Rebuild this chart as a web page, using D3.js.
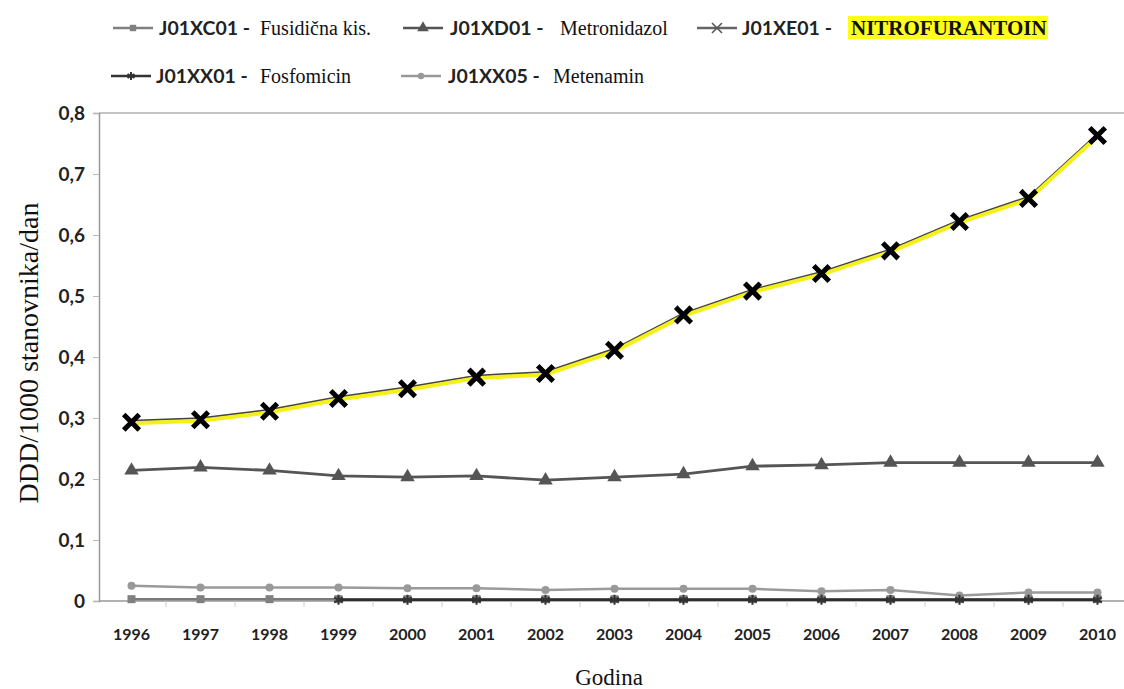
<!DOCTYPE html>
<html><head><meta charset="utf-8">
<script src="https://cdn.jsdelivr.net/npm/d3@7"></script>
<style>body{margin:0;background:#fff}svg{display:block}</style>
</head><body>
<svg id="c" width="1124" height="689"></svg>
<script>
const years = ["1996","1997","1998","1999","2000","2001","2002","2003","2004","2005","2006","2007","2008","2009","2010"];
const yTicks = [0,0.1,0.2,0.3,0.4,0.5,0.6,0.7,0.8];
const fusidic = [0.003,0.003,0.003,0.003,0.003,0.003,0.003,0.003,0.003,0.003,0.003,0.003,0.003,0.003,0.003];
const metronidazol = [0.214,0.219,0.214,0.205,0.203,0.205,0.198,0.203,0.208,0.221,0.223,0.227,0.227,0.227,0.227];
const nitrofurantoin = [0.293,0.297,0.311,0.332,0.348,0.367,0.373,0.411,0.469,0.508,0.537,0.574,0.622,0.660,0.763];
const fosfomicin = [null,null,null,0.002,0.002,0.002,0.002,0.002,0.002,0.002,0.002,0.002,0.002,0.002,0.002];
const metenamin = [0.025,0.022,0.022,0.022,0.021,0.021,0.018,0.020,0.020,0.020,0.016,0.018,0.009,0.014,0.014];
const codes = ["J01XC01 -","J01XD01 -","J01XE01 -","J01XX01 -","J01XX05 -"];
const names = ["Fusidična kis.","Metronidazol","NITROFURANTOIN","Fosfomicin","Metenamin"];

const svg = d3.select("#c");
const x = d3.scaleBand().domain(years).range([97, 1132]);
const y = d3.scaleLinear().domain([0, 0.8]).range([601, 113]);
const cx = d => x(d) + x.bandwidth()/2;

svg.append("line").attr("x1",99).attr("x2",1124).attr("y1",y(0.8)).attr("y2",y(0.8)).attr("stroke","#b0b0b0").attr("stroke-width",1.5);

const ya = svg.append("g").attr("transform","translate(99,0)")
  .call(d3.axisLeft(y).tickValues(yTicks).tickSize(6).tickPadding(8).tickFormat(d => d===0 ? "0" : d3.format(".1f")(d).replace(".",",")));
ya.select(".domain").attr("stroke","#999").attr("stroke-width",1.5);
ya.selectAll(".tick line").attr("stroke","#bbb");
ya.selectAll("text").attr("font-family","Lato, 'Open Sans', sans-serif").attr("font-weight","bold").attr("font-size",19).attr("fill","#222");

const xa = svg.append("g").attr("transform","translate(0,601)").call(d3.axisBottom(x).tickSize(0).tickPadding(28));
xa.select(".domain").remove();
xa.selectAll("text").attr("font-family","Lato, 'Open Sans', sans-serif").attr("font-weight","bold").attr("font-size",16).attr("fill","#222");
svg.append("line").attr("x1",99).attr("x2",1124).attr("y1",601).attr("y2",601).attr("stroke","#999").attr("stroke-width",1.5);
svg.append("g").selectAll("line").data(years.slice(1)).join("line")
  .attr("x1",d=>x(d)).attr("x2",d=>x(d)).attr("y1",601).attr("y2",607).attr("stroke","#ccc");

svg.append("text").attr("transform","translate(38,353) rotate(-90)").attr("text-anchor","middle")
  .attr("font-family","'Liberation Serif', serif").attr("font-size",28).attr("fill","#111").text("DDD/1000 stanovnika/dan");
svg.append("text").attr("x",609).attr("y",685).attr("text-anchor","middle")
  .attr("font-family","'Liberation Serif', serif").attr("font-size",23).attr("fill","#111").text("Godina");

const xPath = s => `M${-s},${-s}L${s},${s}M${-s},${s}L${s},${-s}`;
const starPath = s => `M0,${-s}L0,${s}M${-s*0.87},${-s*0.5}L${s*0.87},${s*0.5}M${-s*0.87},${s*0.5}L${s*0.87},${-s*0.5}`;
function drawMarker(g, type, px, py, small) {
  const k = small ? 0.8 : 1;
  if (type==="square") g.append("rect").attr("x",px-4*k).attr("y",py-4*k).attr("width",8*k).attr("height",8*k).attr("fill","#808080");
  else if (type==="tri") g.append("path").attr("d", d3.symbol(d3.symbolTriangle, 90*k*k)()).attr("transform",`translate(${px},${py})`).attr("fill","#555");
  else if (type==="x") g.append("path").attr("d", xPath(small?4.5:6)).attr("transform",`translate(${px},${py})`).attr("stroke", small?"#555":"#000").attr("stroke-width", small?1.5:5).attr("stroke-linecap","square");
  else if (type==="star") g.append("path").attr("d", starPath(5*k)).attr("transform",`translate(${px},${py})`).attr("stroke","#333").attr("stroke-width",2);
  else if (type==="circle") g.append("circle").attr("cx",px).attr("cy",py).attr("r",4*k).attr("fill","#999");
}

const line = d3.line().defined(d => d.v !== null).x(d => cx(d.yr)).y(d => y(d.v));
const series = [
  {vals: metenamin, color:"#9a9a9a", w:2.5, m:"circle"},
  {vals: metronidazol, color:"#555", w:2.8, m:"tri"},
  {vals: fusidic, color:"#7a7a7a", w:2.5, m:"square"},
  {vals: fosfomicin, color:"#2e2e2e", w:2.5, m:"star"},
];
series.forEach(s => {
  const data = years.map((yr,i) => ({yr, v:s.vals[i]}));
  const g = svg.append("g");
  g.append("path").datum(data).attr("d", line).attr("fill","none").attr("stroke",s.color).attr("stroke-width",s.w);
  data.filter(d=>d.v!==null).forEach(d => drawMarker(g, s.m, cx(d.yr), y(d.v)));
});
const nd = years.map((yr,i) => ({yr, v:nitrofurantoin[i]}));
const ng = svg.append("g");
ng.append("path").datum(nd).attr("d", line).attr("fill","none").attr("stroke","#444").attr("stroke-width",2).attr("transform","translate(0,-1.5)");
ng.append("path").datum(nd).attr("d", line).attr("fill","none").attr("stroke","#f4f01a").attr("stroke-width",4).attr("transform","translate(0,1)");
nd.forEach(d => drawMarker(ng, "x", cx(d.yr), y(d.v)));

const leg = [
  {lx:113, ly:28, m:"square", col:"#808080", code:0, cx:159, nx:260},
  {lx:403, ly:28, m:"tri", col:"#555", code:1, cx:450, nx:560},
  {lx:697, ly:28, m:"x", col:"#666", code:2, cx:742, nx:851},
  {lx:111, ly:76, m:"star", col:"#333", code:3, cx:156, nx:260},
  {lx:401, ly:76, m:"circle", col:"#999", code:4, cx:448, nx:553},
];
leg.forEach(l => {
  const g = svg.append("g");
  const ly = l.ly;
  g.append("line").attr("x1",l.lx).attr("x2",l.lx+40).attr("y1",ly).attr("y2",ly).attr("stroke",l.col).attr("stroke-width",2.5);
  drawMarker(g, l.m, l.lx+20, ly, true);
  g.append("text").attr("x",l.cx).attr("y",ly+7).attr("font-family","Lato, 'Open Sans', sans-serif").attr("font-weight","bold").attr("font-size",19.5).attr("fill","#222").text(codes[l.code]);
  if (l.code===2) {
    g.append("rect").attr("x",l.nx-3).attr("y",ly-12).attr("width",200).attr("height",23).attr("fill","#ffff1a");
    g.append("text").attr("x",l.nx).attr("y",ly+7).attr("font-family","'Liberation Serif', serif").attr("font-weight","bold").attr("font-size",21).attr("fill","#111").text(names[l.code]);
  } else {
    g.append("text").attr("x",l.nx).attr("y",ly+7).attr("font-family","'Liberation Serif', serif").attr("font-size",20).attr("fill","#111").text(names[l.code]);
  }
});
</script>
</body></html>
